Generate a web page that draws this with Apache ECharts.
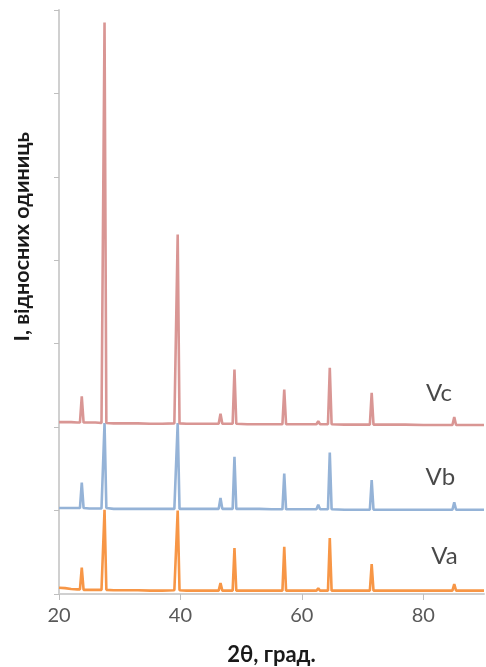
<!DOCTYPE html>
<html>
<head>
<meta charset="utf-8">
<script src="https://cdn.jsdelivr.net/npm/echarts@6/dist/echarts.min.js"></script>
<style>
html,body{margin:0;padding:0;background:#fff;}
#chart{width:486px;height:667px;}
</style>
</head>
<body>
<div id="chart"></div>
<script>
// 2θ ticks shown on the x axis
var xTicks = [20, 40, 60, 80];
// Series names
var seriesNames = ['Va', 'Vb', 'Vc'];
// Diffraction patterns: [2θ, intensity (offset units)]
var dataVa = [
  [20,0.075],[21,0.07],[22,0.06],[23,0.055],[23.45,0.055],[23.75,0.315],[24.05,0.05],[25,0.05],[26,0.05],[27,0.05],
  [27.2,0.055],[27.5,1.01],[27.8,0.05],[29,0.045],[31,0.045],[33,0.045],[35,0.04],[37,0.04],[39,0.045],
  [39.25,0.05],[39.55,1.0],[39.85,0.045],[41,0.04],[43,0.04],[45,0.04],[46.3,0.04],[46.6,0.13],[46.9,0.04],
  [48.6,0.04],[48.9,0.55],[49.2,0.04],[51,0.04],[53,0.04],[55,0.04],[56.8,0.04],[57.1,0.565],[57.4,0.04],
  [59,0.04],[61,0.04],[62.4,0.04],[62.7,0.07],[63,0.04],[64.3,0.04],[64.6,0.67],[64.9,0.04],[67,0.04],
  [69,0.04],[71.2,0.04],[71.5,0.36],[71.8,0.04],[74,0.04],[76.4,0.04],[76.7,0.05],[77,0.04],[80,0.04],
  [83,0.04],[84.8,0.04],[85.1,0.12],[85.4,0.04],[88,0.04],[90,0.04]
];
var dataVb = [
  [20,1.03],[21,1.03],[22,1.03],[23,1.03],[23.45,1.03],[23.75,1.335],[24.05,1.03],[25,1.025],[26,1.025],[27,1.025],
  [27.2,1.03],[27.5,2.05],[27.8,1.03],[29,1.02],[31,1.02],[33,1.02],[35,1.02],[37,1.02],[39,1.02],
  [39.25,1.025],[39.55,2.05],[39.85,1.02],[41,1.02],[43,1.02],[45,1.02],[46.3,1.02],[46.6,1.15],[46.9,1.02],
  [48.6,1.02],[48.9,1.645],[49.2,1.02],[51,1.02],[53,1.02],[55,1.015],[56.8,1.015],[57.1,1.445],[57.4,1.015],
  [59,1.015],[61,1.015],[62.4,1.015],[62.7,1.07],[63,1.015],[64.3,1.015],[64.6,1.695],[64.9,1.015],[67,1.01],
  [69,1.01],[71.2,1.01],[71.5,1.365],[71.8,1.01],[74,1.01],[76.4,1.01],[76.7,1.03],[77,1.01],[80,1.01],
  [83,1.01],[84.8,1.01],[85.1,1.10],[85.4,1.01],[88,1.01],[90,1.01]
];
var dataVc = [
  [20,2.06],[21,2.06],[22,2.06],[23,2.055],[23.45,2.055],[23.75,2.37],[24.05,2.055],[25,2.055],[26,2.055],[27,2.05],
  [27.2,2.055],[27.5,6.85],[27.8,2.05],[29,2.045],[31,2.045],[33,2.045],[35,2.04],[37,2.04],[39,2.045],
  [39.25,2.05],[39.55,4.31],[39.85,2.045],[41,2.04],[43,2.04],[45,2.04],[46.3,2.04],[46.6,2.16],[46.9,2.04],
  [48.6,2.04],[48.9,2.69],[49.2,2.04],[51,2.035],[53,2.035],[55,2.035],[56.8,2.035],[57.1,2.45],[57.4,2.035],
  [59,2.035],[61,2.035],[62.4,2.035],[62.7,2.07],[63,2.035],[64.3,2.035],[64.6,2.71],[64.9,2.035],[67,2.03],
  [69,2.03],[71.2,2.03],[71.5,2.41],[71.8,2.03],[74,2.03],[76.4,2.03],[76.7,2.05],[77,2.03],[80,2.025],
  [83,2.025],[84.8,2.025],[85.1,2.12],[85.4,2.025],[88,2.025],[90,2.025]
];
// Label anchor points in data coordinates
var labelPoints = [[83.5,0.45],[82.8,1.40],[82.6,2.41]];

var colors = ['#F79646', '#95B3D7', '#D99694'];
var allData = [dataVa, dataVb, dataVc];
var FONT = 'Lato';

var series = seriesNames.map(function (n, i) {
  return {
    name: n, type: 'line', data: allData[i], symbol: 'none', smooth: false,
    lineStyle: {color: colors[i], width: 2.6}, z: 2 + i, animation: false
  };
});
series.push({
  type: 'scatter', symbolSize: 0, animation: false, z: 10,
  data: labelPoints.map(function (p, i) { return {value: p, name: seriesNames[i]}; }),
  label: {show: true, position: 'inside', formatter: '{b}', color: '#1a1a1a', fontSize: 24, fontFamily: FONT}
});

var chart = echarts.init(document.getElementById('chart'), null, {renderer: 'canvas'});
chart.setOption({
  backgroundColor: '#fff',
  animation: false,
  grid: {left: 59, right: 2, top: 10, bottom: 73, outerBoundsMode: 'none', containLabel: false},
  xAxis: {
    type: 'value', min: 20, max: 90, interval: 20,
    axisLine: {show: true, lineStyle: {color: '#d0d0d0', width: 2}},
    axisTick: {show: true, length: 6, lineStyle: {color: '#bfbfbf', width: 1}, customValues: xTicks},
    axisLabel: {fontSize: 20, color: '#595959', fontFamily: FONT, margin: 12, customValues: xTicks},
    splitLine: {show: false},
    name: '2θ, град.', nameLocation: 'middle', nameGap: 50,
    nameTextStyle: {fontSize: 22, fontWeight: 'bold', color: '#1a1a1a', fontFamily: FONT}
  },
  yAxis: {
    type: 'value', min: 0, max: 7, interval: 1,
    axisLine: {show: true, lineStyle: {color: '#d0d0d0', width: 2}},
    axisTick: {show: true, length: 5, lineStyle: {color: '#bfbfbf', width: 1}},
    axisLabel: {show: false},
    splitLine: {show: false}
  },
  graphic: [{
    type: 'text', left: 11, top: 132, rotation: Math.PI / 2,
    style: {text: 'I, відносних одиниць', fontSize: 21.5, fontWeight: 'bold', fill: '#1a1a1a', fontFamily: FONT}
  }],
  series: series
});
</script>
</body>
</html>
